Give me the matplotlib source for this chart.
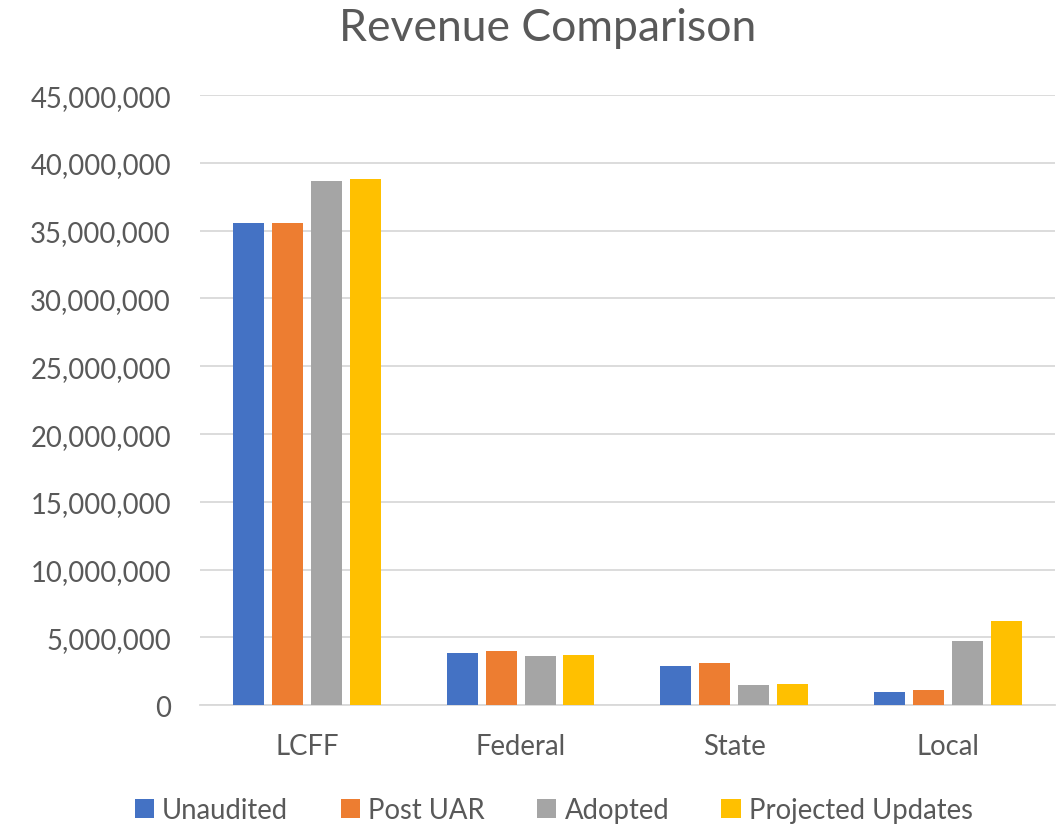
import numpy as np
import matplotlib.pyplot as plt
from matplotlib.ticker import FuncFormatter

categories = ['LCFF', 'Federal', 'State', 'Local']
series = ['Unaudited', 'Post UAR', 'Adopted', 'Projected Updates']
unaudited = [35530000, 3890000, 2930000, 960000]
post_uar = [35530000, 3980000, 3120000, 1160000]
adopted = [38650000, 3670000, 1480000, 4740000]
projected = [38830000, 3710000, 1550000, 6200000]
colors = ['#4472C4', '#ED7D31', '#A5A5A5', '#FFC000']

plt.rcParams['font.family'] = ['Lato', 'DejaVu Sans']
text_color = '#595959'

fig = plt.figure(figsize=(10.59, 8.28), dpi=100)
ax = fig.add_axes([0.189, 0.147, 0.807, 0.737])

x = np.arange(len(categories))
width = 0.145
stride = 0.182
for i, (vals, name) in enumerate(zip([unaudited, post_uar, adopted, projected], series)):
    ax.bar(x + (i - 1.5) * stride, vals, width, color=colors[i], label=name, zorder=3)

ax.set_ylim(0, 45000000)
ax.set_xlim(-0.5, 3.5)
ax.set_yticks(np.arange(0, 45000001, 5000000))
ax.yaxis.set_major_formatter(FuncFormatter(lambda v, p: f'{int(v):,}'))
ax.grid(axis='y', color='#D9D9D9', linewidth=1.3, zorder=0)
ax.set_xticks(x)
ax.set_xticklabels(categories)
ax.tick_params(axis='both', length=0, labelsize=19.8, colors=text_color)
ax.tick_params(axis='y', pad=21)
ax.tick_params(axis='x', pad=20)
for s in ['top', 'right', 'left']:
    ax.spines[s].set_visible(False)
ax.spines['bottom'].set_color('#D9D9D9')
ax.spines['bottom'].set_linewidth(1.3)

fig.text(0.517, 0.966, 'Revenue Comparison', ha='center', va='center', fontsize=32, color=text_color)

fig.legend(loc='center', bbox_to_anchor=(0.523, 1 - 811 / 828), ncol=4, frameon=False,
           fontsize=19.8, labelcolor=text_color, handlelength=0.7, handleheight=0.7,
           handletextpad=0.3, columnspacing=1.9)

fig.savefig('out.png', dpi=100)
